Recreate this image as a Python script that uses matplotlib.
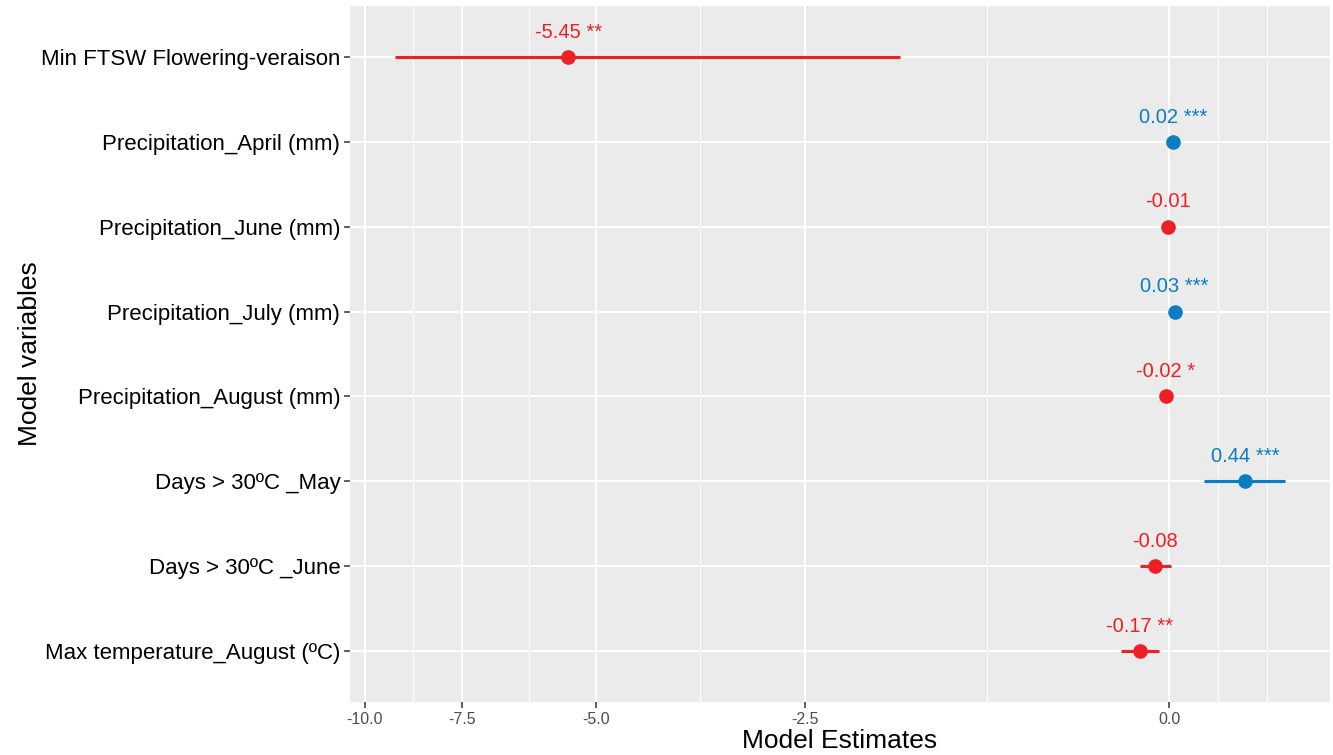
import numpy as np
import matplotlib.pyplot as plt
from matplotlib.ticker import FixedLocator, NullFormatter

plt.rcParams['font.family'] = ['Liberation Sans', 'DejaVu Sans']

variables = ["Min FTSW Flowering-veraison", "Precipitation_April (mm)",
             "Precipitation_June (mm)", "Precipitation_July (mm)",
             "Precipitation_August (mm)", "Days > 30ºC _May",
             "Days > 30ºC _June", "Max temperature_August (ºC)"]
estimates = [-5.45, 0.02, -0.01, 0.03, -0.02, 0.44, -0.08, -0.17]
ci_low = [-9.16, 0.015, -0.015, 0.025, -0.025, 0.20, -0.17, -0.28]
ci_high = [-1.71, 0.025, -0.005, 0.035, -0.015, 0.68, 0.01, -0.06]
stars = ["**", "***", "", "***", "*", "***", "", "**"]
x_ticks = [-10.0, -7.5, -5.0, -2.5, 0.0]

red = '#EE1F26'
blue = '#0B7DC3'


# pseudo-log axis (asinh(x / 2)), like scales::pseudo_log_trans(sigma = 1)
def fwd(x):
    return np.arcsinh(np.asarray(x) / 2.0)


def inv(u):
    return 2.0 * np.sinh(np.asarray(u))


fig = plt.figure(figsize=(13.33, 7.55), dpi=100)
ax = fig.add_axes([350 / 1333, 1 - 702 / 755, 980 / 1333, 696 / 755])
ax.set_facecolor('#EBEBEB')
ax.set_xscale('function', functions=(fwd, inv))

y = np.arange(1, len(variables) + 1)
for i in range(len(variables)):
    col = blue if estimates[i] > 0 else red
    ax.hlines(y[i], ci_low[i], ci_high[i], color=col, lw=2.2, zorder=3)
    ax.plot(estimates[i], y[i], 'o', ms=9.5, color=col, zorder=4)
    txt = ("%.2f %s" % (estimates[i], stars[i])).strip()
    ax.annotate(txt, (estimates[i], y[i]), xytext=(0, 11), textcoords='offset points',
                ha='center', va='bottom', color=col, fontsize=14.5)

# limits with 5% expansion in transformed space
u_lo, u_hi = fwd(min(ci_low)), fwd(max(ci_high))
pad = 0.05 * (u_hi - u_lo)
ax.set_xlim(inv(u_lo - pad), inv(u_hi + pad))
ax.set_ylim(len(variables) + 0.6, 0.4)

# minor breaks halfway between major breaks in transformed space
ub = list(fwd(x_ticks))
ub.append(ub[-1] + (ub[1] - ub[0]))
minors = []
for a, b in zip(ub[:-1], ub[1:]):
    minors.append((a + b) / 2)
minors.append(ub[-1])
ax.xaxis.set_major_locator(FixedLocator(x_ticks))
ax.xaxis.set_minor_locator(FixedLocator(inv(minors)))
ax.xaxis.set_minor_formatter(NullFormatter())
ax.set_xticklabels(["%.1f" % t for t in x_ticks])

ax.set_yticks(y)
ax.set_yticklabels(variables)

ax.grid(which='major', color='white', lw=1.4)
ax.grid(which='minor', axis='x', color='white', lw=0.7)
ax.set_axisbelow(True)
for s in ax.spines.values():
    s.set_visible(False)

ax.tick_params(axis='x', which='major', length=4, width=1.1, color='#333333',
               labelsize=11.5, labelcolor='#4D4D4D', pad=3)
ax.tick_params(axis='x', which='minor', length=0)
ax.tick_params(axis='y', length=4, width=1.1, color='#333333',
               labelsize=16, labelcolor='black', pad=3)

fig.text(840 / 1333, 1 - 741 / 755, 'Model Estimates', ha='center', va='center', fontsize=19)
fig.text(30 / 1333, 1 - 354 / 755, 'Model variables', ha='center', va='center',
         rotation=90, fontsize=19)

fig.savefig('out.png', dpi=100)
